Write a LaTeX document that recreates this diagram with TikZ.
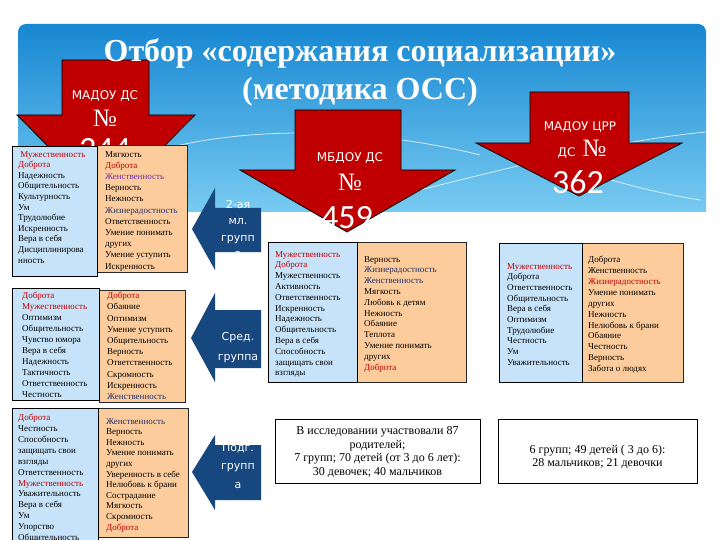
\documentclass[tikz,border=0pt]{standalone}
\usepackage{fontspec}
\setmainfont{Liberation Serif}
\newfontfamily\lblfont{DejaVu Sans}
\newfontfamily\numfont{Carlito}
\usepackage{xcolor}
\usepackage{tikz}
\usetikzlibrary{positioning}
\definecolor{skytop}{HTML}{1787D2}
\definecolor{skybot}{HTML}{78CBF1}
\definecolor{arrred}{HTML}{C00000}
\definecolor{arrblue}{HTML}{17477F}
\definecolor{cellblue}{HTML}{C6E3F9}
\definecolor{cellorange}{HTML}{FDCC9C}
\definecolor{txtred}{HTML}{C00000}
\definecolor{txtpurple}{HTML}{7030A0}
\definecolor{txtnavy}{HTML}{1F2F6A}

\begin{document}
\begin{tikzpicture}[x=1pt, y=-1pt,
  cellL/.style={draw=black, line width=1pt, fill=cellblue},
  cellR/.style={draw=black!85, line width=0.8pt, fill=cellorange},
  items/.style={anchor=north west, inner sep=0pt, align=left, font=\fontsize{9}{10.8}\selectfont},
  downarr/.style={draw=black, line width=0.8pt, fill=arrred},
  leftarr/.style={fill=arrblue},
  arrlbl/.style={text=white, font=\lblfont\fontsize{12}{14}\selectfont},
  nolbl/.style={text=white, font=\fontsize{25}{25}\selectfont},
  numlbl/.style={text=white, font=\numfont\fontsize{34}{34}\selectfont},
  grplbl/.style={text=white, align=center, font=\lblfont\fontsize{11}{16.5}\selectfont},
  infobox/.style={draw=black, line width=0.8pt, fill=white, minimum height=64pt},
  infotext/.style={align=center, inner sep=0pt, font=\fontsize{12}{13.6}\selectfont},
  deco/.style={white, opacity=0.75, line width=0.8pt}
]
  \useasboundingbox (0,0) rectangle (720,540);
  \fill[white] (0,0) rectangle (720,540);

  % sky panel
  \shade[top color=skytop, bottom color=skybot] (18,212) {[rounded corners=8pt] -- (18,24) -- (706,24)} -- (706,212) -- cycle;
  \draw[deco] (160,150) .. controls (240,128) and (360,125) .. (480,155);
  \draw[deco] (420,190) .. controls (520,165) and (620,140) .. (706,132);
  \draw[deco] (560,165) .. controls (610,180) and (650,192) .. (700,200);

  % kindergartens
  \draw[downarr] (62,60) -- (149,60) -- (149,115) -- (195,115) -- (106,205) -- (17,115) -- (62,115) -- cycle;
  \node[arrlbl] (dou1) at (105,96) {МАДОУ ДС};
  \node[nolbl] (no1) at (105,118) {№};
  \node[numlbl] (num1) at (105,150) {344};

  \draw[downarr] (295,110) -- (401,110) -- (401,170) -- (455,170) -- (347,232) -- (240,170) -- (295,170) -- cycle;
  \node[arrlbl] (dou2) at (350,158) {МБДОУ ДС};
  \node[nolbl] (no2) at (350,182) {№};
  \node[numlbl] (num2) at (347,218) {459};

  \draw[downarr] (530,92) -- (629,92) -- (629,143) -- (682,143) -- (579,196) -- (476,143) -- (530,143) -- cycle;
  \node[arrlbl] (dou3) at (580,127) {МАДОУ ЦРР};
  \node[arrlbl, anchor=base east] (ds3) at (579,157) {ДС};
  \node[nolbl, anchor=base west] (no3) at (ds3.base east) {№};
  \node[numlbl] (num3) at (578,182) {362};

  % title
  \node[text=white, align=center, font=\bfseries\fontsize{32}{38}\selectfont] (title) at (360,72)
    {Отбор «содержания социализации»\\(методика ОСС)};

  % table 1
  \fill[cellL] (12,147) rectangle (97,276);
  \fill[cellR] (97,145) rectangle (187,272);
  \draw[cellL, fill=none] (12,147) rectangle (97,276);
  \node[items, font=\fontsize{9}{10.6}\selectfont] (t1L) at (18,151) {%
    \textcolor{txtred}{\ Мужественность}\\ \textcolor{txtred}{Доброта}\\ Надежность\\ Общительность\\
    Культурность\\ Ум\\ Трудолюбие\\ Искренность\\ Вера  в себя\\ Дисциплинирова\\ нность};
  \node[items, font=\fontsize{9}{11.2}\selectfont] (t1R) at (105,151) {%
    Мягкость\\ \textcolor{txtred}{Доброта}\\ \textcolor{txtpurple}{Женственность}\\ Верность\\ Нежность\\
    \textcolor{txtnavy}{Жизнерадостность}\\ Ответственность\\ Умение понимать\\ других\\ Умение уступить\\ Искренность};

  % table 2
  \fill[cellL] (12,288) rectangle (99,400);
  \fill[cellR] (99,290) rectangle (185,402);
  \draw[cellL, fill=none] (12,288) rectangle (99,400);
  \node[items, font=\fontsize{9}{11}\selectfont] (t2L) at (22,292) {%
    \textcolor{txtred}{Доброта}\\ \textcolor{txtred}{Мужественность}\\ Оптимизм\\ Общительность\\ Чувство юмора\\
    Вера  в себя\\ Надежность\\ Тактичность\\ Ответственность\\ Честность};
  \node[items, font=\fontsize{9}{11.2}\selectfont] (t2R) at (107,292) {%
    \textcolor{txtred}{Доброта}\\ Обаяние\\ Оптимизм\\ Умение уступить\\ Общительность\\ Верность\\
    Ответственность\\ Скромность\\ Искренность\\ \textcolor{txtnavy}{Женственность}};

  % table 3
  \fill[cellL] (12,408) rectangle (98,548);
  \fill[cellR] (98,408) rectangle (188,537);
  \draw[cellL, fill=none] (12,408) rectangle (98,548);
  \node[items, font=\fontsize{9}{10.9}\selectfont] (t3L) at (18,414) {%
    \textcolor{txtred}{Доброта}\\ Честность\\ Способность\\ защищать свои\\ взгляды\\ Ответственность\\
    \textcolor{txtred}{Мужественность}\\ Уважительность\\ Вера в себя\\ Ум\\ Упорство\\ Общительность};
  \node[items, font=\fontsize{9}{10.6}\selectfont] (t3R) at (106,418) {%
    \textcolor{txtnavy}{Женственность}\\ Верность\\ Нежность\\ Умение понимать\\ других\\ Уверенность в себе\\
    Нелюбовь к брани\\ Сострадание\\ Мягкость\\ Скромность\\ \textcolor{txtred}{Доброта}};

  % table 459
  \fill[cellL] (268,242) rectangle (357,382);
  \fill[cellR] (357,242) rectangle (466,382);
  \draw[cellL, fill=none] (268,242) rectangle (357,382);
  \node[items] (t4L) at (275,251) {%
    \textcolor{txtred}{Мужественность}\\ \textcolor{txtred}{Доброта}\\ Мужественность\\ Активность\\ Ответственность\\
    Искренность\\ Надежность\\ Общительность\\ Вера в себя\\ Способность\\ защищать свои\\ взгляды};
  \node[items] (t4R) at (364,256) {%
    Верность\\ \textcolor{txtnavy}{Жизнерадостность}\\ \textcolor{txtnavy}{Женственность}\\ Мягкость\\ Любовь к детям\\
    Нежность\\ Обаяние\\ Теплота\\ Умение понимать\\ других\\ \textcolor{txtred}{Доброта}};

  % table 362
  \fill[cellL] (499,243) rectangle (582,382);
  \fill[cellR] (582,243) rectangle (683,382);
  \draw[cellL, fill=none] (499,243) rectangle (582,382);
  \node[items, font=\fontsize{9}{10.7}\selectfont] (t5L) at (507,263) {%
    \textcolor{txtred}{Мужественность}\\ Доброта\\ Ответственность\\ Общительность\\ Вера  в себя\\
    Оптимизм\\ Трудолюбие\\ Честность\\ Ум\\ Уважительность};
  \node[items, font=\fontsize{9}{10.9}\selectfont] (t5R) at (588,256) {%
    Доброта\\ Женственность\\ \textcolor{txtred}{Жизнерадостность}\\ Умение понимать\\ других\\ Нежность\\
    Нелюбовь к брани\\ Обаяние\\ Честность\\ Верность\\ Забота  о людях};

  % groups
  \fill[leftarr] (261,208) -- (261,252) -- (215,252) -- (215,270) -- (192,229) -- (215,188) -- (215,208) -- cycle;
  \node[grplbl] (grp1) at (238,229) {2-ая\\мл.\\групп\\а};
  \fill[leftarr] (261,310) -- (261,368) -- (215,368) -- (215,382) -- (191,338) -- (215,293) -- (215,310) -- cycle;
  \node[grplbl, font=\lblfont\fontsize{11}{20}\selectfont] (grp2) at (238,348) {Сред.\\группа};
  \fill[leftarr] (261,445) -- (261,500) -- (215,500) -- (215,510) -- (192,472) -- (215,435) -- (215,445) -- cycle;
  \node[grplbl, font=\lblfont\fontsize{11}{18.5}\selectfont] (grp3) at (238,466) {Подг.\\групп\\а};

  % participants
  \node[infobox, minimum width=205pt] (info1) at (377.5,451) {};
  \node[infotext] (info1t) at ([yshift=-1pt]info1.center)
    {В исследовании участвовали  87\\родителей;\\7 групп; 70 детей (от 3 до 6 лет):\\30 девочек; 40 мальчиков};
  \node[infobox, minimum width=199pt] (info2) at (597.5,451) {};
  \node[infotext] (info2t) at ([yshift=-6pt]info2.center)
    {6 групп;  49 детей ( 3 до 6):\\28 мальчиков; 21 девочки};
\end{tikzpicture}
\end{document}
